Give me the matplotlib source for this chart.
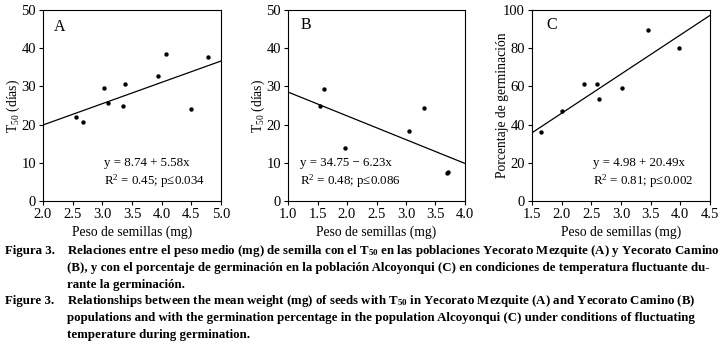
import matplotlib
matplotlib.use("Agg")
import matplotlib.pyplot as plt
import numpy as np

plt.rcParams['font.family'] = ['Liberation Serif', 'DejaVu Serif']
plt.rcParams['mathtext.fontset'] = 'custom'
plt.rcParams['mathtext.rm'] = 'Liberation Serif'
plt.rcParams['mathtext.it'] = 'Liberation Serif:italic'
plt.rcParams['mathtext.bf'] = 'Liberation Serif:bold'

# Panel A: Yecorato Mezquite
a_x = [2.55, 2.68, 3.03, 3.10, 3.35, 3.39, 3.94, 4.08, 4.49, 4.78]
a_y = [22.0, 20.6, 29.7, 25.7, 24.9, 30.5, 32.8, 38.5, 24.0, 37.6]
a_coef = (8.74, 5.58)
# Panel B: Yecorato Camino
b_x = [1.55, 1.61, 1.96, 3.05, 3.31, 3.69, 3.71]
b_y = [25.0, 29.3, 14.0, 18.4, 24.3, 7.3, 7.6]
b_coef = (34.75, -6.23)
# Panel C: Alcoyonqui
c_x = [1.66, 2.01, 2.37, 2.60, 2.63, 3.01, 3.45, 3.98]
c_y = [36.2, 47.2, 61.3, 61.3, 53.3, 59.4, 89.4, 80.3]
c_coef = (4.98, 20.49)

W, H = 725, 359
fig = plt.figure(figsize=(W/100, H/100), dpi=100)

def ax_rect(x0, x1, y0=10, y1=201):
    return [x0/W, 1 - y1/H, (x1-x0)/W, (y1-y0)/H]

panels = [
    dict(rect=ax_rect(43, 221), x=a_x, y=a_y, coef=a_coef, xlim=(2.0, 5.0),
         xt=np.arange(2.0, 5.01, 0.5), ylim=(0, 50), yt=range(0, 51, 10),
         ylabel=r'T$_{\mathrm{50}}$ (días)', lpad=-0.5, letter='A', lpos=(2.18, 45.5),
         eq1='y = 8.74 + 5.58x', eq2=r'R$^{2}$ = 0.45; p≤0.034', epos=(3.03, 9.9, 5.1)),
    dict(rect=ax_rect(288, 465), x=b_x, y=b_y, coef=b_coef, xlim=(1.0, 4.0),
         xt=np.arange(1.0, 4.01, 0.5), ylim=(0, 50), yt=range(0, 51, 10),
         ylabel=r'T$_{\mathrm{50}}$ (días)', lpad=-0.5, letter='B', lpos=(1.21, 46),
         eq1='y = 34.75 − 6.23x', eq2=r'R$^{2}$ = 0.48; p≤0.086', epos=(1.2, 9.9, 5.1)),
    dict(rect=ax_rect(532, 710), x=c_x, y=c_y, coef=c_coef, xlim=(1.5, 4.5),
         xt=np.arange(1.5, 4.51, 0.5), ylim=(0, 100), yt=range(0, 101, 20),
         ylabel='Porcentaje de germinación', lpad=-4, letter='C', lpos=(1.74, 92),
         eq1='y = 4.98 + 20.49x', eq2=r'R$^{2}$ = 0.81; p≤0.002', epos=(2.53, 19.9, 10.2)),
]

for p in panels:
    ax = fig.add_axes(p['rect'])
    ax.scatter(p['x'], p['y'], s=10, color='black', zorder=3, linewidths=0)
    xs = np.array(p['xlim'])
    ax.plot(xs, p['coef'][0] + p['coef'][1]*xs, color='black', lw=0.9)
    ax.set_xlim(*p['xlim'])
    ax.set_ylim(*p['ylim'])
    ax.set_xticks(p['xt'])
    ax.set_xticklabels([f'{v:.1f}' for v in p['xt']])
    ax.set_yticks(list(p['yt']))
    ax.tick_params(direction='out', length=3, width=0.8, labelsize=10.5, pad=2,
                   top=False, right=False, colors='black')
    for s in ax.spines.values():
        s.set_linewidth(0.8)
    ax.set_xlabel('Peso de semillas (mg)', fontsize=9.8, labelpad=3)
    ax.set_ylabel(p['ylabel'], fontsize=9.8, labelpad=p['lpad'])
    ax.text(p['lpos'][0], p['lpos'][1], p['letter'], fontsize=11.5, va='center', ha='left')
    ax.text(p['epos'][0], p['epos'][1], p['eq1'], fontsize=9.3, va='center', ha='left')
    ax.text(p['epos'][0], p['epos'][2], p['eq2'], fontsize=9.3, va='center', ha='left')

cap_fs = 9.3
lines = [
    (5, 251, 'Figura 3.'),
    (67, 251, r'Relaciones entre el peso medio (mg) de semilla con el T$_{\mathbf{50}}$ en las poblaciones Yecorato Mezquite (A) y Yecorato Camino'),
    (67, 268, '(B), y con el porcentaje de germinación en la población Alcoyonqui (C) en condiciones de temperatura fluctuante du-'),
    (67, 285, 'rante la germinación.'),
    (5, 301, 'Figure 3.'),
    (67, 301, r'Relationships between the mean weight (mg) of seeds with T$_{\mathbf{50}}$ in Yecorato Mezquite (A) and Yecorato Camino (B)'),
    (67, 318, 'populations and with the germination percentage in the population Alcoyonqui (C) under conditions of fluctuating'),
    (67, 335, 'temperature during germination.'),
]
for x, y, t in lines:
    fig.text(x/W, 1 - y/H, t, fontsize=cap_fs, fontweight='bold', va='center', ha='left')

fig.savefig('out.png', dpi=100)
